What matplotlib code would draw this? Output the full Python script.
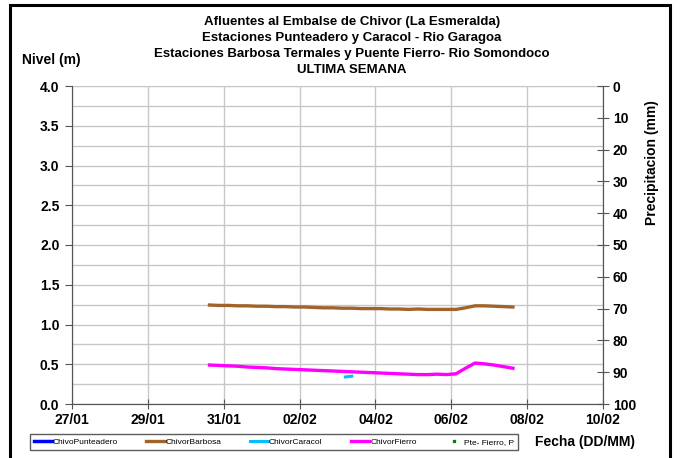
import numpy as np
import matplotlib
matplotlib.use("Agg")
import matplotlib.pyplot as plt
import matplotlib.dates as mdates
import pandas as pd
from matplotlib.patches import Rectangle

plt.rcParams['font.family'] = ['Liberation Sans', 'DejaVu Sans']

# 6-hourly readings starting 30/01 15:00
t0 = "2020-01-30 15:00"
barbosa = [1.245, 1.24, 1.24, 1.235, 1.235, 1.23, 1.23, 1.225, 1.225, 1.22, 1.22,
           1.215, 1.21, 1.21, 1.205, 1.205, 1.20, 1.20, 1.20, 1.195, 1.195, 1.19,
           1.195, 1.19, 1.19, 1.19, 1.19, 1.21, 1.235, 1.235, 1.23, 1.225, 1.22]
fierro = [0.49, 0.485, 0.48, 0.475, 0.465, 0.46, 0.455, 0.445, 0.44, 0.435, 0.43,
          0.425, 0.42, 0.415, 0.41, 0.405, 0.40, 0.395, 0.39, 0.385, 0.38, 0.375,
          0.37, 0.37, 0.375, 0.37, 0.38, 0.45, 0.515, 0.505, 0.49, 0.47, 0.45]
caracol_t = ["2020-02-03 05:00", "2020-02-03 07:00", "2020-02-03 09:00"]
caracol = [0.34, 0.345, 0.35]
punteadero = []
precip = []

t = pd.date_range(t0, periods=len(barbosa), freq="6h")

fig = plt.figure(figsize=(6.81, 4.58), dpi=100)
ax = fig.add_axes([72/681, 1-404/458, 531/681, 318/458])

ax.plot([], [], color='#0000ff', lw=2.5, label='ChivoPunteadero')
ax.plot(t, barbosa, color='#a0632a', lw=2.4, label='ChivorBarbosa')
ax.plot(pd.to_datetime(caracol_t), caracol, color='#00c0ff', lw=2.2, label='ChivorCaracol')
ax.plot(t, fierro, color='#ff00ff', lw=2.4, label='ChivorFierro')

ax.set_xlim(pd.Timestamp("2020-01-27"), pd.Timestamp("2020-02-10"))
ax.set_ylim(0, 4)
ax.set_yticks(np.arange(0, 4.01, 0.5))
ax.set_yticks(np.arange(0, 4.01, 0.25), minor=True)
ax.yaxis.set_major_formatter(matplotlib.ticker.FormatStrFormatter('%.1f'))
ax.xaxis.set_major_locator(mdates.DayLocator(interval=2))
ax.xaxis.set_major_formatter(mdates.DateFormatter('%d/%m'))
ax.grid(True, which='both', color='#c8c8c8', lw=1)
ax.tick_params(axis='y', which='minor', length=0)
ax.tick_params(axis='y', which='major', length=5, color='#555555', labelsize=10, pad=4)
ax.tick_params(axis='x', direction='inout', length=7, color='#555555', labelsize=10, pad=3)
for lab in ax.get_xticklabels() + ax.get_yticklabels():
    lab.set_fontweight('bold')
ax.spines['top'].set_color('#c8c8c8')
for s in ['left', 'bottom', 'right']:
    ax.spines[s].set_color('#555555')

ax2 = ax.twinx()
ax2.plot([], [], 's', color='#008000', ms=2, label='Pte- Fierro, P')
ax2.set_ylim(100, 0)
ax2.set_yticks(np.arange(0, 101, 10))
ax2.tick_params(axis='y', direction='inout', length=8, color='#555555', labelsize=10, pad=3)
for lab in ax2.get_yticklabels():
    lab.set_fontweight('bold')
for s in ['left', 'bottom', 'right']:
    ax2.spines[s].set_color('#555555')
ax2.spines['top'].set_visible(False)
ax2.set_ylabel('Precipitacion (mm)', fontsize=10, fontweight='bold')
ax2.yaxis.set_label_coords(1.079, 0.76)

titles = ["Afluentes al Embalse de Chivor (La Esmeralda)",
          "Estaciones Punteadero y Caracol - Rio Garagoa",
          "Estaciones Barbosa Termales y Puente Fierro- Rio Somondoco",
          "ULTIMA SEMANA"]
for i, s in enumerate(titles):
    fig.text(352/681, 1-(22+16*i)/458, s, ha='center', va='center', fontsize=9.5, fontweight='bold')

fig.text(51/681, 1-60/458, 'Nivel (m)', ha='center', va='center', fontsize=10, fontweight='bold')
fig.text(585/681, 1-442/458, 'Fecha (DD/MM)', ha='center', va='center', fontsize=10, fontweight='bold')

h1, l1 = ax.get_legend_handles_labels()
h2, l2 = ax2.get_legend_handles_labels()
leg = fig.legend(h1 + h2, l1 + l2, ncol=5, loc='center', bbox_to_anchor=(274/681, 1-442/458),
                 fontsize=6, frameon=True, fancybox=False, edgecolor='#333333',
                 handlelength=2.2, columnspacing=3.4, handletextpad=0.1, borderpad=0.5)
leg.get_frame().set_linewidth(1)

fig.patches.append(Rectangle((10/681, -0.1), 660/681, 1.1 - 5/458, transform=fig.transFigure,
                             fill=False, edgecolor='black', lw=2.2))

fig.savefig('out.png', dpi=100)
